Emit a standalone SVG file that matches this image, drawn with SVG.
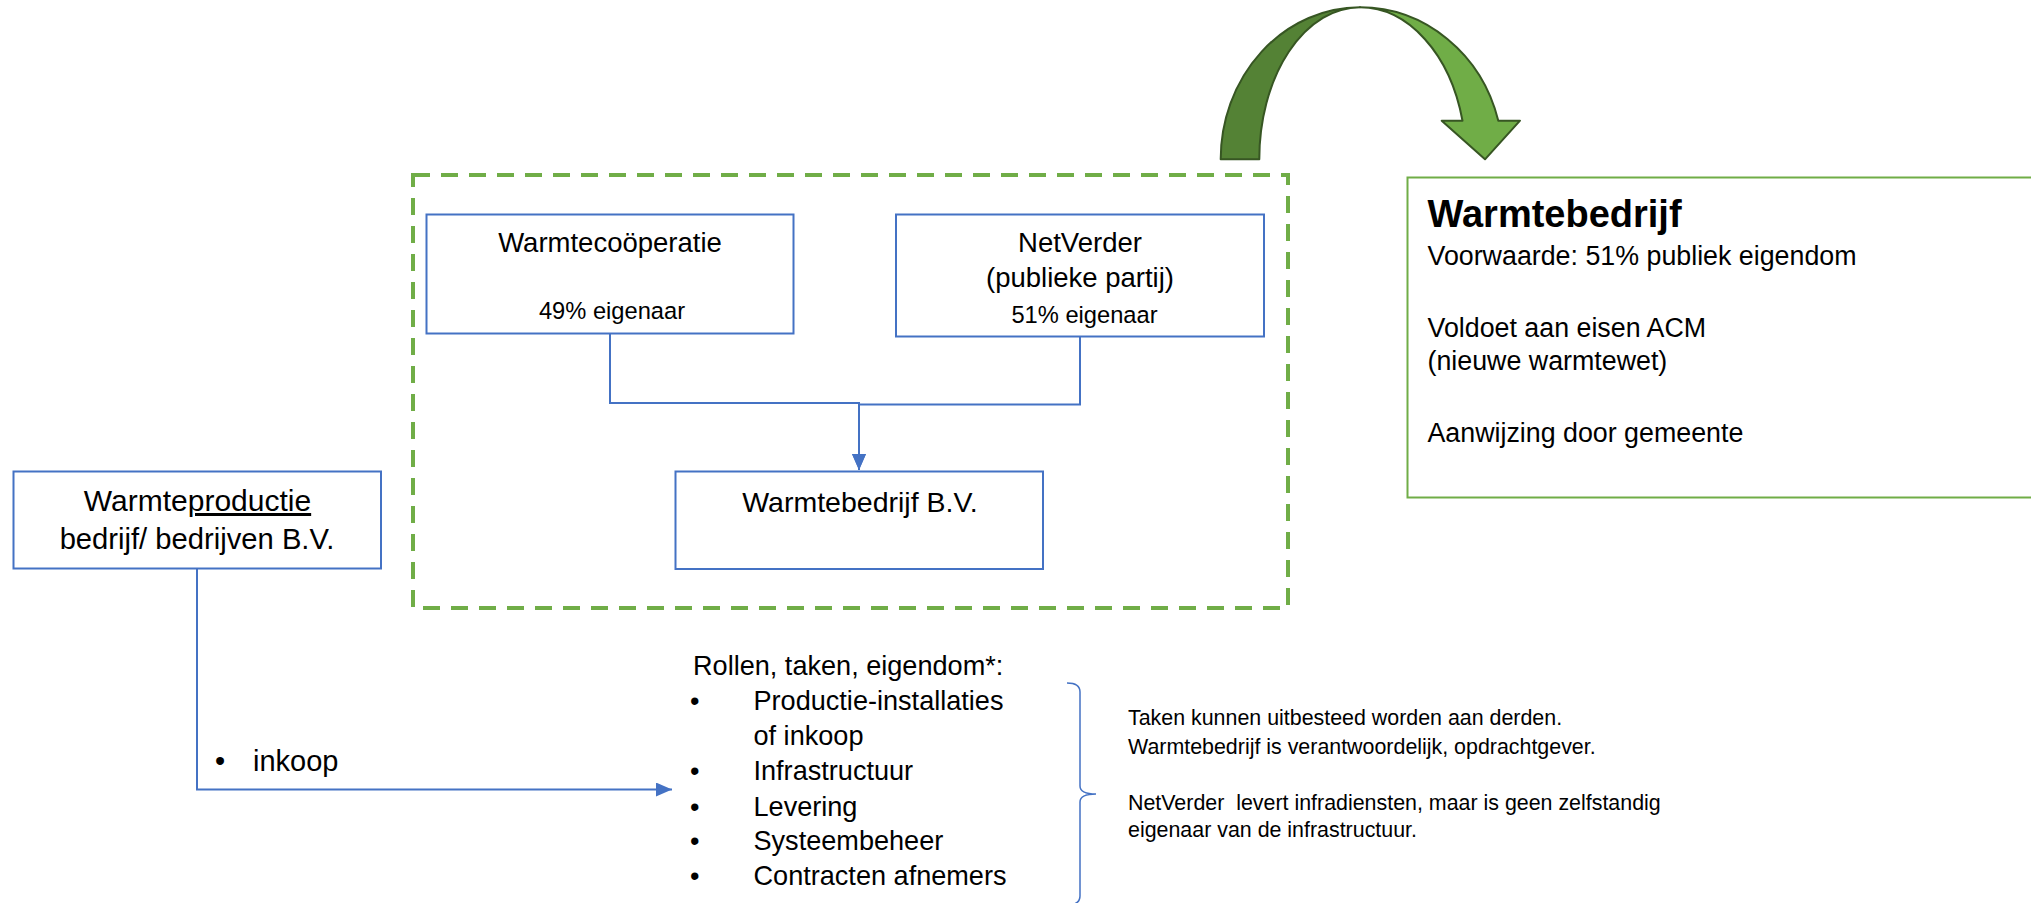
<svg xmlns="http://www.w3.org/2000/svg" width="2031" height="903" viewBox="0 0 2031 903">
<defs>
<marker id="arr" markerUnits="userSpaceOnUse" markerWidth="16" markerHeight="14" refX="16" refY="7" orient="auto">
<path d="M0,0 L16,7 L0,14 Z" fill="#4472C4"/>
</marker>
<style>
.t{font-family:"Liberation Sans",Arial,sans-serif;fill:#000}
.box{fill:#fff;stroke:#4472C4;stroke-width:2}
.con{fill:none;stroke:#4472C4;stroke-width:2}
</style>
</defs>
<rect width="2031" height="903" fill="#fff"/>

<g id="group-frame">
<rect x="413" y="175" width="875" height="433" fill="none" stroke="#70AD47" stroke-width="4" stroke-dasharray="17 11"/>
</g>

<g id="curved-arrow">
<path d="M1220.7,159.3 A139.3,152 0 0 1 1360,7.3 A100.7,152 0 0 0 1259.3,159.3 Z" fill="#548235" stroke="#375623" stroke-width="2" stroke-linejoin="round"/>
<path d="M1360,7.3 A143,152 0 0 1 1498.3,120.7 L1520,120.7 L1485,159.3 L1441.7,120.7 L1462.5,120.7 A106,152 0 0 0 1360,7.3 Z" fill="#70AD47" stroke="#375623" stroke-width="2" stroke-linejoin="round"/>
</g>

<g id="connectors">
<path class="con" d="M610,334 V403 H859 V470" marker-end="url(#arr)"/>
<path class="con" d="M1080,337 V404.5 H859 V470" marker-end="url(#arr)"/>
<path class="con" d="M197,568 V789.5 H672" marker-end="url(#arr)"/>
<path d="M1067,683 Q1080,683 1080,692 V786 Q1080,794 1096,794 Q1080,794 1080,802 V896 Q1080,905 1067,905" fill="none" stroke="#4472C4" stroke-width="1.5"/>
</g>

<g id="node-warmtecooperatie">
<rect class="box" x="426.5" y="214.5" width="367" height="119"/>
<text class="t" x="610" y="252" font-size="27.5" text-anchor="middle">Warmtecoöperatie</text>
<text class="t" x="612" y="319" font-size="23.7" text-anchor="middle">49% eigenaar</text>
</g>

<g id="node-netverder">
<rect class="box" x="896" y="214.5" width="368" height="122"/>
<text class="t" x="1080" y="252" font-size="27.5" text-anchor="middle">NetVerder</text>
<text class="t" x="1080" y="287" font-size="27.5" text-anchor="middle">(publieke partij)</text>
<text class="t" x="1084.5" y="323" font-size="23.7" text-anchor="middle">51% eigenaar</text>
</g>

<g id="node-warmtebedrijf-bv">
<rect class="box" x="675.5" y="471.5" width="367.5" height="97.5"/>
<text class="t" x="860" y="512" font-size="28.5" text-anchor="middle">Warmtebedrijf B.V.</text>
</g>

<g id="node-warmteproductie">
<rect class="box" x="13.5" y="471.5" width="367.5" height="97"/>
<text class="t" x="197.5" y="511" font-size="30" text-anchor="middle">Warmte<tspan text-decoration="underline">productie</tspan></text>
<text class="t" x="197" y="549" font-size="29.2" text-anchor="middle">bedrijf/ bedrijven B.V.</text>
</g>

<g id="label-inkoop">
<text class="t" x="215" y="770.5" font-size="29">•</text>
<text class="t" x="253" y="770.5" font-size="29">inkoop</text>
</g>

<g id="node-warmtebedrijf-info">
<rect x="1407.5" y="177.5" width="640" height="320" fill="#fff" stroke="#70AD47" stroke-width="2"/>
<text class="t" x="1427.5" y="226.5" font-size="38" font-weight="bold">Warmtebedrijf</text>
<text class="t" font-size="26.8">
<tspan x="1427.5" y="265">Voorwaarde: 51% publiek eigendom</tspan>
<tspan x="1427.5" y="336.5">Voldoet aan eisen ACM</tspan>
<tspan x="1427.5" y="370">(nieuwe warmtewet)</tspan>
<tspan x="1427.5" y="441.5">Aanwijzing door gemeente</tspan>
</text>
</g>

<g id="list-rollen">
<text class="t" x="693" y="675" font-size="27.1">Rollen, taken, eigendom*:</text>
<g font-size="27.1">
<text class="t" x="690" y="710">•</text>
<text class="t" x="753.5" y="710">Productie-installaties</text>
<text class="t" x="753.5" y="745">of inkoop</text>
<text class="t" x="690" y="780">•</text>
<text class="t" x="753.5" y="780">Infrastructuur</text>
<text class="t" x="690" y="815.5">•</text>
<text class="t" x="753.5" y="815.5">Levering</text>
<text class="t" x="690" y="850">•</text>
<text class="t" x="753.5" y="850">Systeembeheer</text>
<text class="t" x="690" y="885">•</text>
<text class="t" x="753.5" y="885">Contracten afnemers</text>
</g>
</g>

<g id="note-taken">
<text class="t" font-size="21.4" style="white-space:pre">
<tspan x="1128" y="725">Taken kunnen uitbesteed worden aan derden.</tspan>
<tspan x="1128" y="754">Warmtebedrijf is verantwoordelijk, opdrachtgever.</tspan>
<tspan x="1128" y="810">NetVerder  levert infradiensten, maar is geen zelfstandig</tspan>
<tspan x="1128" y="837">eigenaar van de infrastructuur.</tspan>
</text>
</g>
</svg>
